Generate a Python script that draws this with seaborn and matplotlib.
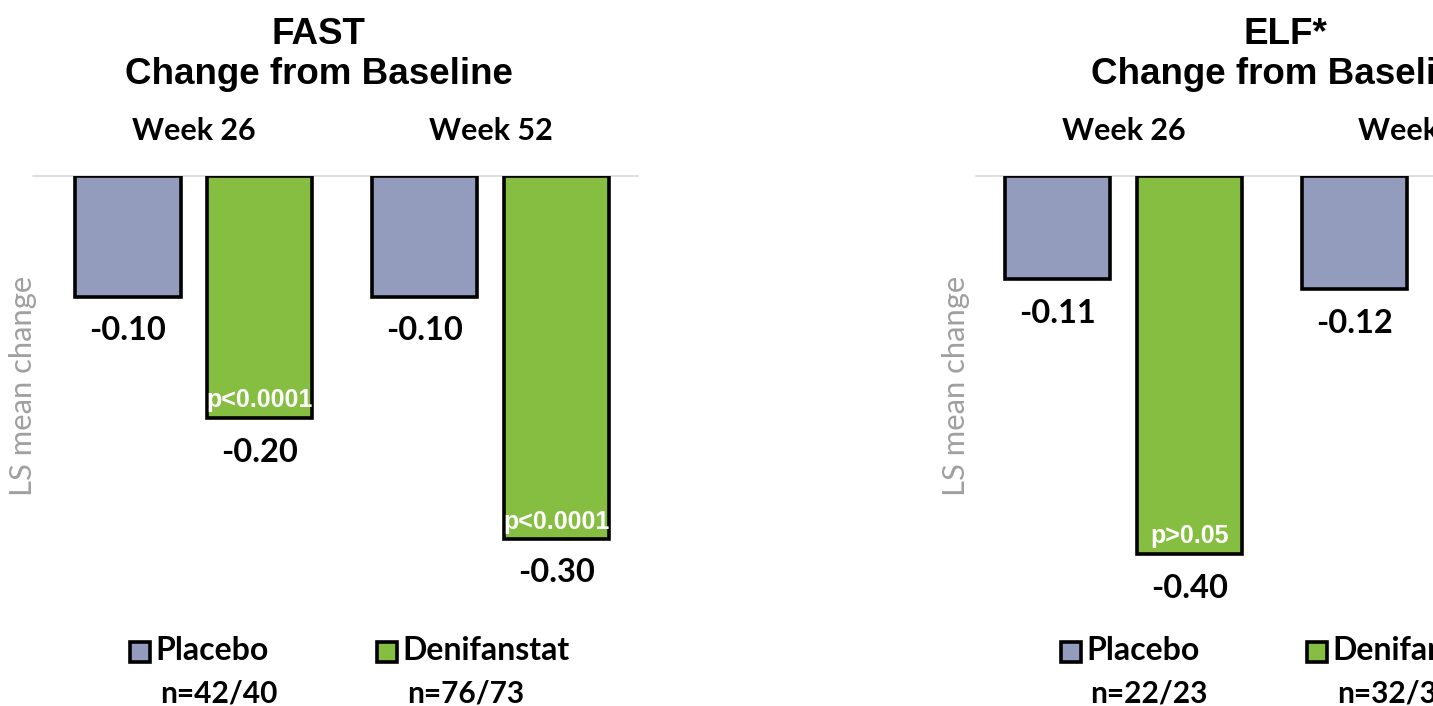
import matplotlib
matplotlib.use("Agg")
import matplotlib.pyplot as plt
import matplotlib.transforms as mtransforms
from matplotlib.patches import Rectangle
import seaborn as sns
import pandas as pd

# ---- data -------------------------------------------------------------
weeks = ["Week 26", "Week 52"]
treatments = ["Placebo", "Denifanstat"]
colors = ["#949cbd", "#85be40"]

fast_week = ["Week 26", "Week 26", "Week 52", "Week 52"]
fast_treatment = ["Placebo", "Denifanstat", "Placebo", "Denifanstat"]
fast_change = [-0.10, -0.20, -0.10, -0.30]
fast_pvalue = ["", "p<0.0001", "", "p<0.0001"]
fast_n = ["n=42/40", "n=76/73"]

elf_week = ["Week 26", "Week 26", "Week 52"]
elf_treatment = ["Placebo", "Denifanstat", "Placebo"]
elf_change = [-0.11, -0.40, -0.12]
elf_pvalue = ["", "p>0.05", ""]
elf_n = ["n=22/23", "n=32/3"]

# ---- style ------------------------------------------------------------
sns.set_theme(style="white")
plt.rcParams["font.family"] = ["Lato", "DejaVu Sans"]
plt.rcParams["text.color"] = "black"
HEAD = ["Liberation Sans", "DejaVu Sans"]
EDGE_LW = 2.6

W, H = 1433, 706
fig = plt.figure(figsize=(W / 100, H / 100), dpi=100)
fig.patch.set_facecolor("white")


def fx(px):
    return px / W


def fy(py):
    return 1 - py / H


def make_panel(left, top, xlim, ylim, unit_x, unit_y):
    width = (xlim[1] - xlim[0]) * unit_x
    height = (ylim[1] - ylim[0]) * unit_y
    ax = fig.add_axes([fx(left), fy(top + height), width / W, height / H])
    return ax


def draw_panel(ax, week, treatment, change, pvalue, xlim, ylim):
    df = pd.DataFrame({"week": week, "treatment": treatment,
                       "change": change, "p": pvalue})
    sns.barplot(data=df, x="week", y="change", hue="treatment",
                order=weeks, hue_order=treatments,
                palette=dict(zip(treatments, colors)),
                width=0.886, gap=0.2, errorbar=None,
                edgecolor="black", linewidth=EDGE_LW, saturation=1,
                legend=False, ax=ax)
    ax.set_xlim(*xlim)
    ax.set_ylim(*ylim)
    ax.axhline(0, color="#d9d9d9", lw=1.2, zorder=0, clip_on=False)
    for spine in ax.spines.values():
        spine.set_visible(False)
    ax.set_xticks([])
    ax.set_yticks([])
    ax.set_xlabel("")
    ax.set_ylabel("")

    # value under each bar, p-value inside the bar's lower end
    for t, container in zip(treatments, ax.containers):
        sub = df[df.treatment == t]
        rows = sub.set_index("week").reindex([w for w in weeks if w in set(sub.week)])
        for bar, (_, row) in zip(container, rows.iterrows()):
            xc = bar.get_x() + bar.get_width() / 2
            yb = bar.get_y() + bar.get_height()
            ax.annotate(f"{row.change:.2f}", (xc, yb), xytext=(0, -44 * 0.72),
                        textcoords="offset points", ha="center", va="baseline",
                        fontsize=23.5, fontweight="bold", color="black",
                        annotation_clip=False)
            if row.p:
                ax.annotate(row.p, (xc, yb), xytext=(0, 10 * 0.72),
                            textcoords="offset points", ha="center",
                            va="baseline", fontsize=18, fontweight="bold",
                            family=HEAD, color="white", annotation_clip=False)

    trans = mtransforms.blended_transform_factory(ax.transData, fig.transFigure)
    for i, w in enumerate(weeks):
        ax.text(i, fy(140), w, transform=trans, ha="center", va="baseline",
                fontsize=22, fontweight="bold", color="black", clip_on=False)


def draw_title(cx, name):
    fig.text(fx(cx), fy(43.5), name, ha="center", va="baseline",
             fontsize=26.5, fontweight="bold", family=HEAD)
    fig.text(fx(cx), fy(84), "Change from Baseline", ha="center",
             va="baseline", fontsize=26.5, fontweight="bold", family=HEAD)


def draw_legend(items):
    for (sq_left, n_left, label, n_text), color in zip(items, colors):
        fig.patches.append(Rectangle((fx(sq_left), fy(662)), 20 / W, 20 / H,
                                     transform=fig.transFigure,
                                     facecolor=color, edgecolor="black",
                                     lw=EDGE_LW))
        fig.text(fx(sq_left + 25), fy(660), label, ha="left", va="baseline",
                 fontsize=23, fontweight="bold")
        fig.text(fx(n_left), fy(702), n_text, ha="left", va="baseline",
                 fontsize=21.5, fontweight="bold")


UX = 296.75
FAST_X, FAST_Y = (-0.5417, 1.497), (-0.40, 0)
ELF_X, ELF_Y = (-0.497, 1.5417), (-0.50, 0)

ax1 = make_panel(33, 175.5, FAST_X, FAST_Y, UX, 1210)
draw_panel(ax1, fast_week, fast_treatment, fast_change, fast_pvalue, FAST_X, FAST_Y)

ax2 = make_panel(976, 175.5, ELF_X, ELF_Y, UX, 945)
draw_panel(ax2, elf_week, elf_treatment, elf_change, elf_pvalue, ELF_X, ELF_Y)

draw_title(318.5, "FAST")
draw_title(1285, "ELF*")

for x in (23, 956):
    fig.text(fx(x), fy(386), "LS mean change", rotation=90, ha="center",
             va="center", fontsize=22.3, color="#a0a0a0")

draw_legend([(130, 160, "Placebo", fast_n[0]),
             (377, 407, "Denifanstat", fast_n[1])])
draw_legend([(1061, 1090, "Placebo", elf_n[0]),
             (1307, 1337, "Denifanstat", elf_n[1])])

fig.savefig("out.png", dpi=100)
